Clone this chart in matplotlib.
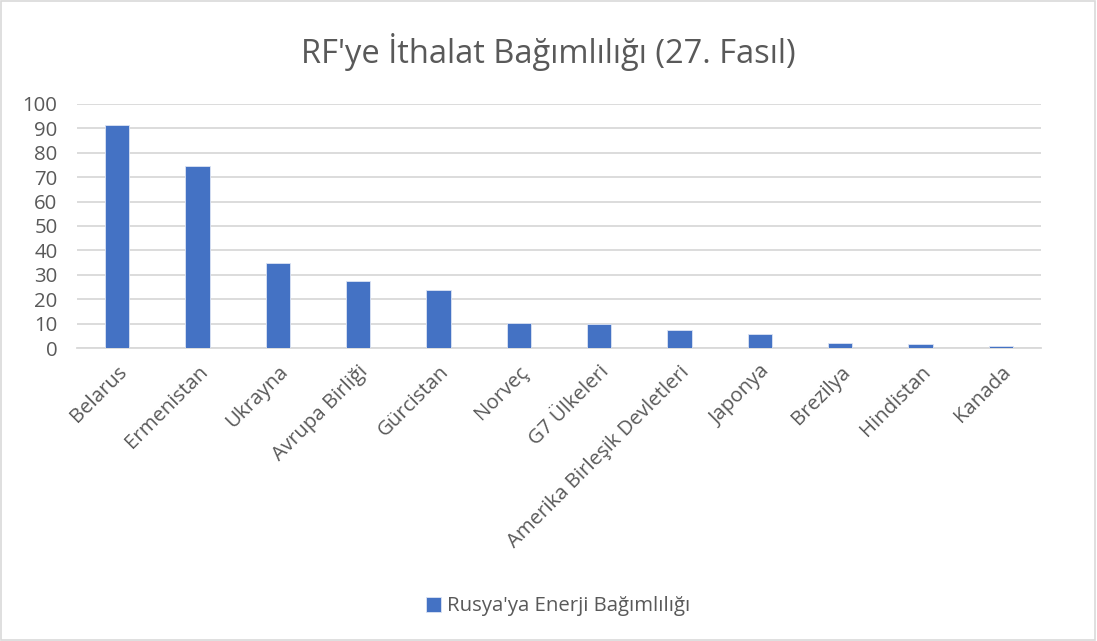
import numpy as np
import matplotlib.pyplot as plt
from matplotlib.patches import Rectangle

plt.rcParams['font.family'] = ['Open Sans', 'DejaVu Sans']

# Data
countries = ['Belarus', 'Ermenistan', 'Ukrayna', 'Avrupa Birliği', 'Gürcistan', 'Norveç',
             'G7 Ülkeleri', 'Amerika Birleşik Devletleri', 'Japonya', 'Brezilya',
             'Hindistan', 'Kanada']
dependency = [91.4, 74.7, 34.8, 27.3, 23.7, 10.1, 10.0, 7.4, 5.9, 2.0, 1.8, 0.9]
yticks = [0, 10, 20, 30, 40, 50, 60, 70, 80, 90, 100]

title = "RF'ye İthalat Bağımlılığı (27. Fasıl)"
series_name = "Rusya'ya Enerji Bağımlılığı"

text_color = '#595959'
bar_color = '#4472C4'
grid_color = '#D9D9D9'

fig = plt.figure(figsize=(10.97, 6.41), dpi=100)
ax = fig.add_axes([0.0702, 0.457, 0.8788, 0.381])

x = np.arange(len(countries))
ax.bar(x, dependency, width=0.3, color=bar_color, edgecolor='#DCE4F3', linewidth=0.6,
       label=series_name, zorder=3)

ax.set_xlim(-0.5, len(countries) - 0.5)
ax.set_ylim(0, 100)
ax.set_yticks(yticks)
ax.yaxis.grid(True, color=grid_color, linewidth=1.3, zorder=0)
ax.set_axisbelow(True)
for s in ['top', 'right', 'left']:
    ax.spines[s].set_visible(False)
ax.spines['bottom'].set_color(grid_color)
ax.spines['bottom'].set_linewidth(1.3)
ax.tick_params(axis='both', length=0, labelsize=14.7, colors=text_color)
ax.tick_params(axis='y', pad=14)
ax.set_xticks(x)
ax.set_xticklabels(countries, rotation=45, ha='right', rotation_mode='anchor')
ax.tick_params(axis='x', pad=10)

fig.suptitle(title, x=0.5, y=0.948, fontsize=23.5, color=text_color)

leg = fig.legend(loc='center', bbox_to_anchor=(0.509, 0.054), frameon=False,
                 fontsize=14.7, handlelength=0.75, handleheight=0.75, handletextpad=0.3)
for t in leg.get_texts():
    t.set_color(text_color)

# chart border
fig.patches.append(Rectangle((0.001, 0.001), 0.997, 0.997, transform=fig.transFigure,
                             fill=False, edgecolor='#D9D9D9', linewidth=1.2))

fig.savefig('out.png', dpi=100)
